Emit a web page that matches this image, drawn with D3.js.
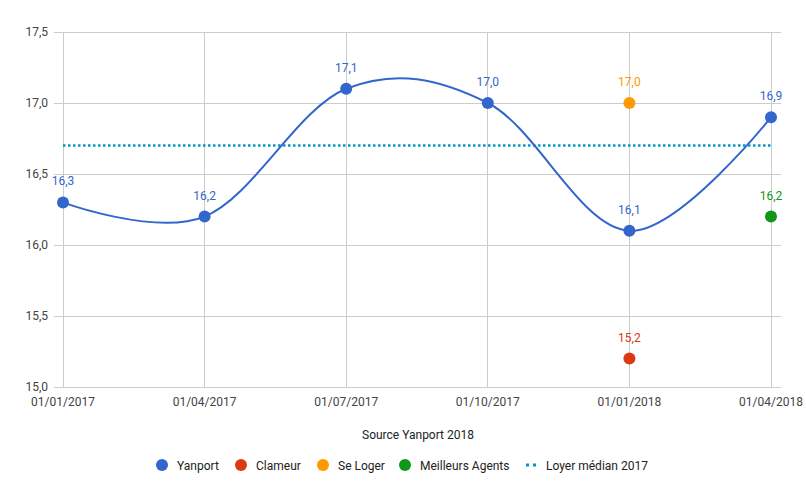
<!DOCTYPE html>
<html><head><meta charset="utf-8">
<script src="https://cdn.jsdelivr.net/npm/d3@7"></script>
<style>body{margin:0;background:#fff}svg{display:block;font-family:Roboto,Arial,sans-serif}</style>
</head><body><svg id="c" width="806" height="498"></svg>
<script>
const categories = ["01/01/2017","01/04/2017","01/07/2017","01/10/2017","01/01/2018","01/04/2018"];
const yanport = [16.3,16.2,17.1,17.0,16.1,16.9];
const clameur = [null,null,null,null,15.2,null];
const seLoger = [null,null,null,null,17.0,null];
const meilleursAgents = [null,null,null,null,null,16.2];
const median = [16.7,16.7,16.7,16.7,16.7,16.7];
const yTicks = [15.0,15.5,16.0,16.5,17.0,17.5];
const series = [
  {name:"Yanport", values:yanport, color:"#3366cc", line:true},
  {name:"Clameur", values:clameur, color:"#dc3912"},
  {name:"Se Loger", values:seLoger, color:"#ff9900"},
  {name:"Meilleurs Agents", values:meilleursAgents, color:"#109618"}
];
const svg = d3.select("#c");
const x = d3.scalePoint().domain(categories).range([63,771]);
const y = d3.scaleLinear().domain([15,17.5]).range([387,32]);
const fmt = v => d3.format(".1f")(v).replace(".", ",");
// gridlines
svg.append("g").selectAll("line").data(yTicks).join("line")
  .attr("x1",54).attr("x2",781).attr("y1",d=>y(d)).attr("y2",d=>y(d))
  .attr("stroke","#cccccc").attr("stroke-width",1).attr("shape-rendering","crispEdges");
svg.append("g").selectAll("line").data(categories).join("line")
  .attr("x1",d=>x(d)).attr("x2",d=>x(d)).attr("y1",32).attr("y2",387)
  .attr("stroke","#cccccc").attr("stroke-width",1).attr("shape-rendering","crispEdges");
// axes labels
svg.append("g").selectAll("text").data(yTicks).join("text")
  .attr("x",48).attr("y",d=>y(d)+4).attr("text-anchor","end")
  .attr("font-size",12).attr("fill","#444").text(fmt);
svg.append("g").selectAll("text").data(categories).join("text")
  .attr("x",d=>x(d)).attr("y",406).attr("text-anchor","middle")
  .attr("font-size",12).attr("fill","#444").text(d=>d);
svg.append("text").attr("x",418).attr("y",439).attr("text-anchor","middle")
  .attr("font-size",12).attr("fill","#222").text("Source Yanport 2018");
// median
svg.append("path").datum(median)
  .attr("d",d3.line().x((d,i)=>x(categories[i])).y(d=>y(d)))
  .attr("fill","none").attr("stroke","#0099c6").attr("stroke-width",2.5).attr("stroke-dasharray","2.5,2.5");
// series
series.forEach(s=>{
  const pts = s.values.map((v,i)=>({c:categories[i],v})).filter(d=>d.v!=null);
  if(s.line){
    svg.append("path").datum(pts)
      .attr("d",d3.line().x(d=>x(d.c)).y(d=>y(d.v)).curve(d3.curveCardinal.tension(-0.04)))
      .attr("fill","none").attr("stroke",s.color).attr("stroke-width",2);
  }
  svg.append("g").selectAll("circle").data(pts).join("circle")
    .attr("cx",d=>x(d.c)).attr("cy",d=>y(d.v)).attr("r",6).attr("fill",s.color);
  svg.append("g").selectAll("text").data(pts).join("text")
    .attr("x",d=>x(d.c)).attr("y",d=>y(d.v)-17).attr("text-anchor","middle")
    .attr("font-size",12).attr("fill",s.color).text(d=>fmt(d.v));
});
// legend
const legend = [
  {name:"Yanport", color:"#3366cc", cx:162},
  {name:"Clameur", color:"#dc3912", cx:241},
  {name:"Se Loger", color:"#ff9900", cx:323},
  {name:"Meilleurs Agents", color:"#109618", cx:405}
];
const lg = svg.append("g");
legend.forEach(l=>{
  lg.append("circle").attr("cx",l.cx).attr("cy",465).attr("r",6).attr("fill",l.color);
  lg.append("text").attr("x",l.cx+15).attr("y",469.5).attr("font-size",12).attr("fill","#222").text(l.name);
});
lg.append("line").attr("x1",526).attr("x2",536).attr("y1",465).attr("y2",465)
  .attr("stroke","#0099c6").attr("stroke-width",3).attr("stroke-dasharray","3,4");
lg.append("text").attr("x",546).attr("y",469.5).attr("font-size",12).attr("fill","#222").text("Loyer médian 2017");
</script></body></html>
